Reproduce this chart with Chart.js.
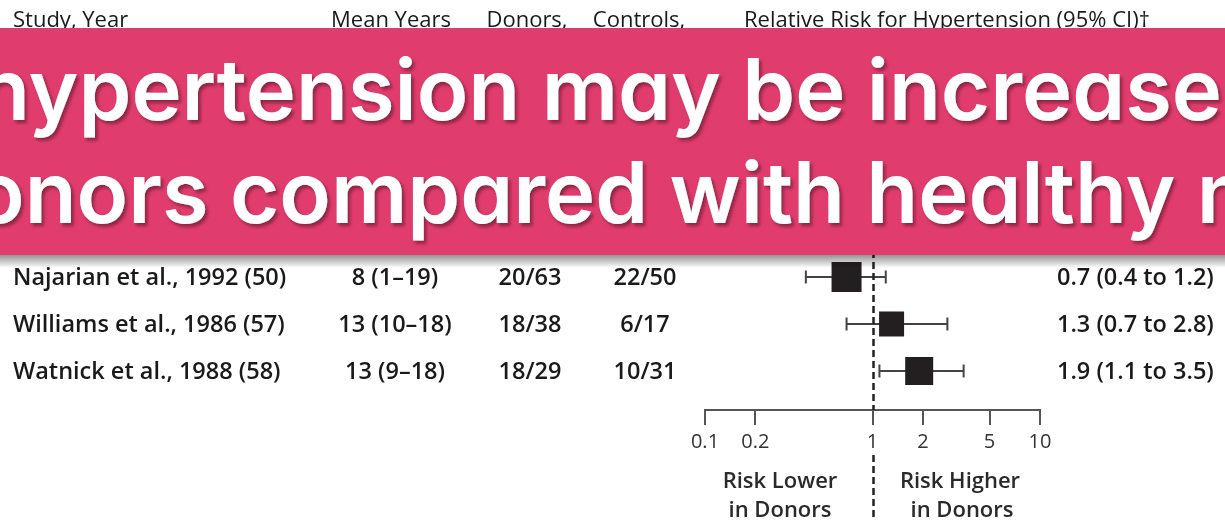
<!DOCTYPE html>
<html>
<head>
<meta charset="utf-8">
<title>Hypertension in kidney donors</title>
<script src="https://cdn.jsdelivr.net/npm/chart.js@4"></script>
<style>
  html, body { margin: 0; padding: 0; background: #fff; }
  #wrap { position: relative; width: 1225px; height: 520px; overflow: hidden; }
  canvas { display: block; }
  #banner { position: absolute; left: 0; top: 28px; overflow: visible; }
  #banner text {
    font-family: Inter, Lato, "Noto Sans", sans-serif;
    font-weight: 600;
    font-feature-settings: "cv11" 1, "ss01" 0;
    fill: #fff;
  }
</style>
</head>
<body>
<div id="wrap">
  <canvas id="chart" width="1225" height="520"></canvas>
  <svg id="banner" width="1225" height="245" xmlns="http://www.w3.org/2000/svg">
    <defs>
      <linearGradient id="drop" x1="0" y1="0" x2="0" y2="1">
        <stop offset="0" stop-color="#000" stop-opacity="0.42"/>
        <stop offset="1" stop-color="#000" stop-opacity="0"/>
      </linearGradient>
      <filter id="glyphShadow" x="-5%" y="-20%" width="110%" height="140%">
        <feDropShadow dx="2.5" dy="3" stdDeviation="1.6" flood-color="#4a0820" flood-opacity="0.55"/>
      </filter>
    </defs>
    <rect x="0" y="227" width="1225" height="13" fill="url(#drop)"/>
    <rect x="0" y="0" width="1225" height="227" fill="rgb(224,60,110)"/>
    <text id="bannerLine1" x="-22" y="92" font-size="80" filter="url(#glyphShadow)"></text>
    <text id="bannerLine2" x="-60" y="195" font-size="80" filter="url(#glyphShadow)"></text>
  </svg>
</div>
<script>
// ---- study table ----
const studies = ['Najarian et al., 1992 (50)', 'Williams et al., 1986 (57)', 'Watnick et al., 1988 (58)'];
const meanYears = ['8 (1\u201319)', '13 (10\u201318)', '13 (9\u201318)'];
const donors = ['20/63', '18/38', '18/29'];
const controls = ['22/50', '6/17', '10/31'];

// relative risk with 95% CI
const relativeRisk = [0.7, 1.3, 1.9];
const ciLower = [0.4, 0.7, 1.1];
const ciUpper = [1.2, 2.8, 3.5];

// axis and headings
const axisTicks = [0.1, 0.2, 1, 2, 5, 10];
const headers = ['Study, Year', 'Mean Years', 'Donors,', 'Controls,', 'Relative Risk for Hypertension (95% CI)\u2020'];
const lowerLabel = ['Risk Lower', 'in Donors'];
const higherLabel = ['Risk Higher', 'in Donors'];
const bannerLines = ['hypertension may be increased', 'donors compared with healthy non-donors'];

// ---- styling ----
const markerSide = [30, 25, 28];          // square side in px, per study weight
const TEXT = '#1a1a1a';
const FONT = '"Open Sans", "Noto Sans", sans-serif';

const fmt = v => v.toFixed(1);
const ciText = relativeRisk.map((rr, i) => `${fmt(rr)} (${fmt(ciLower[i])} to ${fmt(ciUpper[i])})`);

// whisker datasets, one per study
const whiskers = relativeRisk.map((_, i) => ({
  type: 'line',
  data: [{ x: ciLower[i], y: i }, { x: ciUpper[i], y: i }],
  borderColor: '#444',
  borderWidth: 2,
  pointStyle: 'line',
  pointRotation: 90,
  pointRadius: 6.5,
  pointBorderWidth: 2,
  pointBorderColor: '#444',
  pointHoverRadius: 6.5,
  clip: false
}));

const squares = {
  type: 'scatter',
  data: relativeRisk.map((v, i) => ({ x: v, y: i })),
  pointStyle: 'rect',
  pointRadius: markerSide.map(s => s / Math.SQRT2),
  pointHoverRadius: markerSide.map(s => s / Math.SQRT2),
  backgroundColor: '#231f20',
  borderColor: '#231f20',
  borderWidth: 0,
  clip: false
};

const tablePlugin = {
  id: 'forestTable',
  afterDraw(chart) {
    const { ctx, scales: { x, y } } = chart;
    ctx.save();

    // reference line at RR = 1
    const x1 = Math.round(x.getPixelForValue(1)) + 0.5;
    ctx.strokeStyle = '#222';
    ctx.lineWidth = 2.5;
    ctx.setLineDash([7, 4]);
    ctx.beginPath();
    ctx.moveTo(x1, chart.chartArea.top);
    ctx.lineTo(x1, chart.chartArea.bottom);
    ctx.moveTo(x1, 455);
    ctx.lineTo(x1, 520);
    ctx.stroke();
    ctx.setLineDash([]);

    // column headings
    ctx.fillStyle = TEXT;
    ctx.font = `500 22px ${FONT}`;
    ctx.textBaseline = 'alphabetic';
    ctx.textAlign = 'left';
    ctx.fillText(headers[0], 13, 27);
    ctx.textAlign = 'center';
    ctx.fillText(headers[1], 391, 27);
    ctx.fillText(headers[2], 527, 27);
    ctx.fillText(headers[3], 639, 27);
    ctx.textAlign = 'left';
    ctx.fillText(headers[4], 744, 27);

    // study rows
    ctx.font = `600 23.5px ${FONT}`;
    studies.forEach((name, i) => {
      const by = y.getPixelForValue(i) + 8;
      ctx.textAlign = 'left';
      ctx.fillText(name, 13, by);
      ctx.textAlign = 'center';
      ctx.fillText(meanYears[i], 395, by);
      ctx.fillText(donors[i], 530, by);
      ctx.fillText(controls[i], 645, by);
      ctx.textAlign = 'left';
      ctx.fillText(ciText[i], 1057, by);
    });

    // direction labels under the axis
    ctx.font = `600 22px ${FONT}`;
    ctx.fillStyle = '#2a2a2a';
    ctx.textAlign = 'center';
    ctx.fillText(lowerLabel[0], 780, 488);
    ctx.fillText(lowerLabel[1], 780, 517);
    ctx.fillText(higherLabel[0], 960, 488);
    ctx.fillText(higherLabel[1], 962, 517);
    ctx.restore();
  }
};

new Chart(document.getElementById('chart'), {
  data: { datasets: [squares, ...whiskers] },
  options: {
    responsive: false,
    animation: false,
    devicePixelRatio: 1,
    events: [],
    layout: { padding: { left: 705, right: 185, top: 42, bottom: 61 } },
    plugins: { legend: { display: false }, tooltip: { enabled: false } },
    scales: {
      x: {
        type: 'logarithmic',
        position: 'bottom',
        min: 0.1,
        max: 10,
        afterBuildTicks: s => { s.ticks = axisTicks.map(v => ({ value: v })); },
        ticks: {
          callback: v => String(v),
          autoSkip: false,
          maxRotation: 0,
          padding: 5,
          color: '#333',
          font: { family: FONT, size: 20 }
        },
        grid: { drawOnChartArea: false, drawTicks: true, tickLength: 15, color: '#555', lineWidth: 2 },
        border: { display: true, color: '#555', width: 2 }
      },
      y: { type: 'linear', reverse: true, min: -5, max: 2.83, display: false }
    }
  },
  plugins: [tablePlugin]
});

// banner headline, sized so the first line runs across the full width
const line1 = document.getElementById('bannerLine1');
const line2 = document.getElementById('bannerLine2');
line1.textContent = bannerLines[0];
line2.textContent = bannerLines[1];
const probe = 80;
const visibleChars = bannerLines[0].length - 1;
const size = probe * 1244 / line1.getSubStringLength(0, visibleChars);
line1.setAttribute('font-size', size.toFixed(2));
line2.setAttribute('font-size', size.toFixed(2));
line2.setAttribute('x', (-27 - line2.getSubStringLength(0, 1)).toFixed(1));
</script>
</body>
</html>
